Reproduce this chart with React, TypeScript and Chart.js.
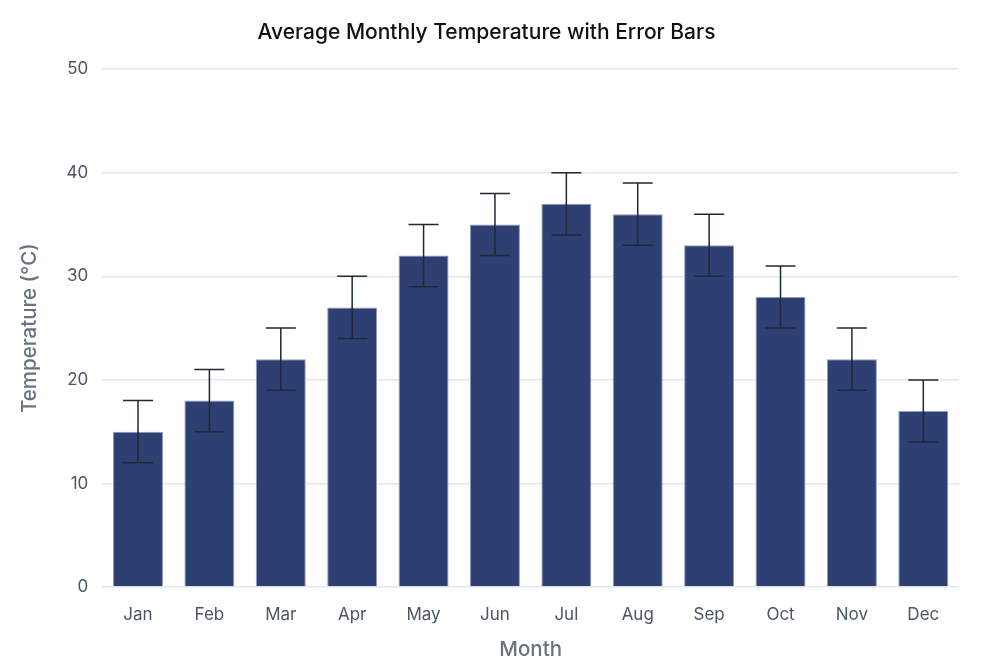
import React, { useEffect, useRef } from "react";
import { Chart, registerables } from "chart.js";

Chart.register(...registerables);

const months = ["Jan", "Feb", "Mar", "Apr", "May", "Jun", "Jul", "Aug", "Sep", "Oct", "Nov", "Dec"];
const temps = [15, 18, 22, 27, 32, 35, 37, 36, 33, 28, 22, 17];
const errors = [3, 3, 3, 3, 3, 3, 3, 3, 3, 3, 3, 3];

const errorBarPlugin = {
  id: "errorBars",
  afterDatasetsDraw(chart: any) {
    const meta = chart.getDatasetMeta(0);
    const yScale = chart.scales.y;
    const ctx = chart.ctx;
    ctx.save();
    ctx.strokeStyle = "#1f2937";
    ctx.lineWidth = 1.5;
    meta.data.forEach((bar: any, i: number) => {
      const x = bar.x;
      const top = yScale.getPixelForValue(temps[i] + errors[i]);
      const bot = yScale.getPixelForValue(temps[i] - errors[i]);
      const half = 15;
      ctx.beginPath();
      ctx.moveTo(x, top);
      ctx.lineTo(x, bot);
      ctx.moveTo(x - half, top);
      ctx.lineTo(x + half, top);
      ctx.moveTo(x - half, bot);
      ctx.lineTo(x + half, bot);
      ctx.stroke();
    });
    ctx.restore();
  },
};

export default function App() {
  const ref = useRef<HTMLCanvasElement | null>(null);
  useEffect(() => {
    if (!ref.current) return;
    const chart = new Chart(ref.current, {
      type: "bar",
      data: {
        labels: months,
        datasets: [
          {
            label: "Temperature",
            data: temps,
            backgroundColor: "#2e3f73",
            borderColor: "#8f9bbd",
            borderWidth: 1,
            categoryPercentage: 0.8,
            barPercentage: 0.875,
          },
        ],
      },
      options: {
        animation: false,
        responsive: true,
        maintainAspectRatio: false,
        layout: { padding: { left: 14, right: 38, top: 14, bottom: 1 } },
        plugins: {
          legend: { display: false },
          tooltip: { enabled: false },
          title: {
            display: true,
            text: "Average Monthly Temperature with Error Bars",
            color: "#111111",
            font: { family: "Inter", size: 21, weight: 500 },
            padding: { top: 6, bottom: 24 },
          },
        },
        scales: {
          x: {
            grid: { display: false },
            border: { display: false },
            ticks: { color: "#4b5563", font: { family: "Inter", size: 17 }, padding: 10 },
            title: {
              display: true,
              text: "Month",
              color: "#6b7280",
              font: { family: "Inter", size: 20.5, weight: 500 },
              padding: { top: 2 },
            },
          },
          y: {
            min: 0,
            max: 50,
            ticks: { stepSize: 10, color: "#4b5563", font: { family: "Inter", size: 17 }, padding: 14 },
            grid: { color: "#e5e7eb", lineWidth: 1.5, drawTicks: false },
            border: { display: false },
            title: {
              display: true,
              text: "Temperature (°C)",
              color: "#6b7280",
              font: { family: "Inter", size: 20.5, weight: 500 },
              padding: { bottom: 10 },
            },
          },
        },
      },
      plugins: [errorBarPlugin],
    });
    return () => chart.destroy();
  }, []);
  return (
    <div style={{ position: "absolute", left: 0, top: 0, width: 997, height: 667, background: "#fff" }}>
      <canvas ref={ref} />
    </div>
  );
}
